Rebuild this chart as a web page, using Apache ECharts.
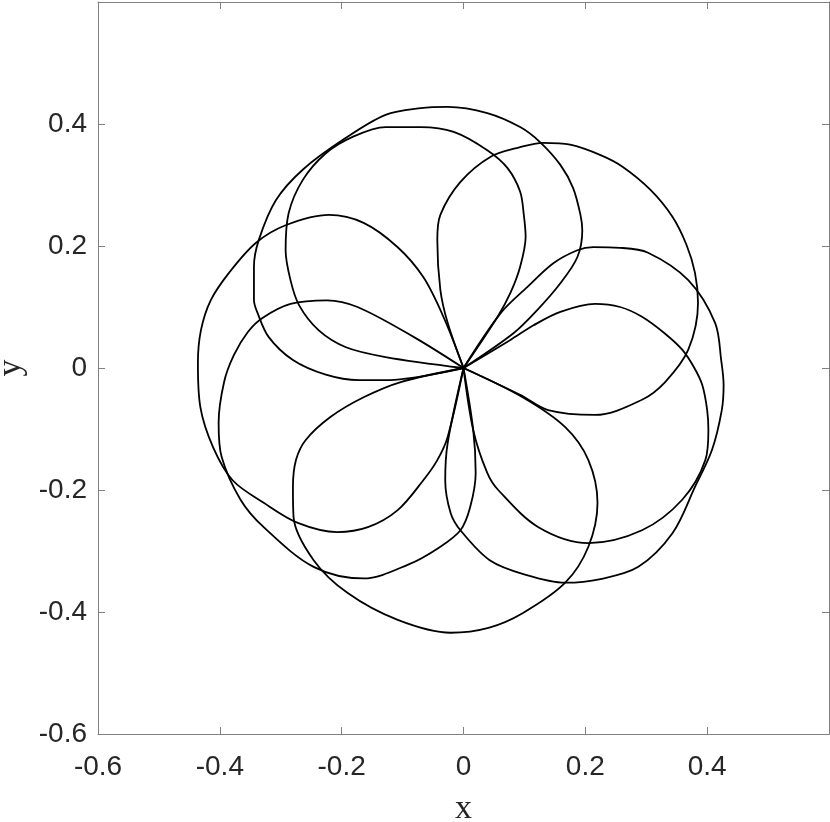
<!DOCTYPE html>
<html>
<head>
<meta charset="utf-8">
<script src="https://cdn.jsdelivr.net/npm/echarts@6/dist/echarts.min.js"></script>
<style>
  html, body { margin: 0; padding: 0; background: #fff; }
  #chart { width: 830px; height: 822px; }
</style>
</head>
<body>
<div id="chart"></div>
<script>
// loops of the curve, each one leaves the origin and comes back as [x, y]
const loopC = [[0,0],[-0.082,0.051],[-0.174,0.100],[-0.224,0.111],[-0.284,0.105],[-0.330,0.082],[-0.354,0.059],[-0.377,0.021],[-0.393,-0.023],[-0.402,-0.090],[-0.397,-0.146],[-0.366,-0.216],[-0.328,-0.261],[-0.246,-0.326],[-0.164,-0.345],[-0.090,-0.322],[-0.041,-0.295],[-0.005,-0.266],[0.011,-0.228],[0.020,-0.172],[0.016,-0.102],[0,0]];
const loopD = [[0,0],[0.016,-0.102],[0.039,-0.172],[0.057,-0.200],[0.123,-0.261],[0.205,-0.287],[0.293,-0.266],[0.359,-0.216],[0.397,-0.151],[0.402,-0.102],[0.400,-0.069],[0.392,-0.028],[0.379,0.000],[0.359,0.030],[0.330,0.057],[0.293,0.084],[0.257,0.100],[0.216,0.105],[0.159,0.092],[0.115,0.070],[0.077,0.046],[0,0]];
const loopTL = [[0,0],[0.082,0.057],[0.121,0.095],[0.159,0.139],[0.187,0.182],[0.195,0.226],[0.192,0.251],[0.180,0.295],[0.159,0.333],[0.126,0.370],[0.093,0.395],[0.039,0.418],[-0.026,0.428],[-0.070,0.426],[-0.128,0.415],[-0.198,0.374],[-0.264,0.325],[-0.308,0.275],[-0.336,0.210],[-0.344,0.166],[-0.344,0.111],[-0.338,0.090],[-0.320,0.051],[-0.280,0.013],[-0.226,-0.011],[-0.172,-0.020],[-0.128,-0.020],[0,0]];
const loopY = [[0,0],[-0.103,-0.023],[-0.164,-0.048],[-0.218,-0.080],[-0.259,-0.118],[-0.275,-0.151],[-0.280,-0.195],[-0.279,-0.244],[-0.246,-0.315],[-0.190,-0.369],[-0.108,-0.413],[-0.021,-0.434],[0.041,-0.426],[0.097,-0.402],[0.167,-0.352],[0.205,-0.293],[0.220,-0.221],[0.205,-0.151],[0.167,-0.097],[0.097,-0.048],[0,0]];
const loopX = [[0,0],[0.093,-0.044],[0.139,-0.069],[0.216,-0.077],[0.293,-0.052],[0.331,-0.023],[0.369,0.030],[0.385,0.107],[0.380,0.156],[0.366,0.202],[0.343,0.248],[0.307,0.292],[0.261,0.330],[0.225,0.349],[0.175,0.366],[0.131,0.369],[0.093,0.362],[0.044,0.346],[-0.005,0.305],[-0.038,0.251],[-0.043,0.210],[-0.038,0.128],[-0.026,0.074],[0,0]];
const loopLP = [[0,0],[-0.033,0.084],[-0.066,0.149],[-0.108,0.198],[-0.164,0.238],[-0.221,0.251],[-0.292,0.234],[-0.341,0.205],[-0.385,0.156],[-0.415,0.111],[-0.431,0.062],[-0.436,0.008],[-0.432,-0.064],[-0.411,-0.130],[-0.379,-0.184],[-0.328,-0.221],[-0.272,-0.254],[-0.207,-0.269],[-0.157,-0.261],[-0.108,-0.233],[-0.066,-0.184],[-0.043,-0.151],[-0.026,-0.113],[0,0]];
const loopB = [[0,0],[-0.026,-0.123],[-0.030,-0.184],[-0.021,-0.238],[-0.005,-0.266],[0.043,-0.315],[0.102,-0.339],[0.167,-0.352],[0.225,-0.346],[0.287,-0.326],[0.343,-0.271],[0.380,-0.195],[0.408,-0.134],[0.424,-0.069],[0.427,-0.028],[0.423,0.013],[0.413,0.074],[0.369,0.144],[0.303,0.189],[0.257,0.197],[0.213,0.198],[0.187,0.193],[0.148,0.172],[0.105,0.133],[0.061,0.090],[0,0]];
const loopE = [[0,0],[0.056,0.084],[0.077,0.123],[0.093,0.166],[0.102,0.215],[0.099,0.251],[0.093,0.289],[0.072,0.328],[0.039,0.357],[-0.016,0.387],[-0.070,0.395],[-0.128,0.395],[-0.182,0.379],[-0.226,0.352],[-0.264,0.308],[-0.287,0.254],[-0.292,0.193],[-0.284,0.144],[-0.270,0.103],[-0.238,0.062],[-0.193,0.034],[-0.128,0.018],[0,0]];

const loops = [loopC, loopD, loopTL, loopY, loopX, loopLP, loopB, loopE];
const tickLabels = [-0.6, -0.4, -0.2, 0, 0.2, 0.4];

const myChart = echarts.init(document.getElementById("chart"), null, { renderer: "canvas" });

const axisColor = "#808080";
const textColor = "#262626";

function fmt(v) {
  const hit = tickLabels.find((t) => Math.abs(t - v) < 1e-9);
  return hit === undefined ? "" : String(hit);
}

const baseAxis = {
  type: "value",
  min: -0.6,
  max: 0.6,
  interval: 0.2,
  axisLine: { show: true, onZero: false, lineStyle: { color: axisColor, width: 1 } },
  axisTick: { show: true, inside: true, length: 7, lineStyle: { color: axisColor } },
  splitLine: { show: false },
};

const option = {
  animation: false,
  backgroundColor: "#fff",
  grid: { left: 98, right: 1, top: 2, bottom: 88, containLabel: false, outerBoundsMode: "none" },
  xAxis: [
    {
      ...baseAxis,
      position: "bottom",
      name: "x",
      nameLocation: "middle",
      nameGap: 58,
      nameTextStyle: { fontFamily: "Liberation Serif", fontSize: 34, color: textColor },
      axisLabel: { formatter: fmt, margin: 19, fontFamily: "Liberation Sans", fontSize: 28, color: textColor },
    },
    { ...baseAxis, position: "top", axisLabel: { show: false } },
  ],
  yAxis: [
    {
      ...baseAxis,
      position: "left",
      name: "y",
      nameLocation: "middle",
      nameRotate: 90,
      nameGap: 70,
      nameTextStyle: { fontFamily: "Liberation Serif", fontSize: 34, color: textColor },
      axisLabel: { formatter: fmt, margin: 11, fontFamily: "Liberation Sans", fontSize: 28, color: textColor },
    },
    { ...baseAxis, position: "right", axisLabel: { show: false } },
  ],
  series: loops.map((d) => ({
    type: "line",
    data: d,
    xAxisIndex: 0,
    yAxisIndex: 0,
    showSymbol: false,
    smooth: 0.33,
    lineStyle: { color: "#000", width: 1.8 },
  })),
};

myChart.setOption(option);
</script>
</body>
</html>
